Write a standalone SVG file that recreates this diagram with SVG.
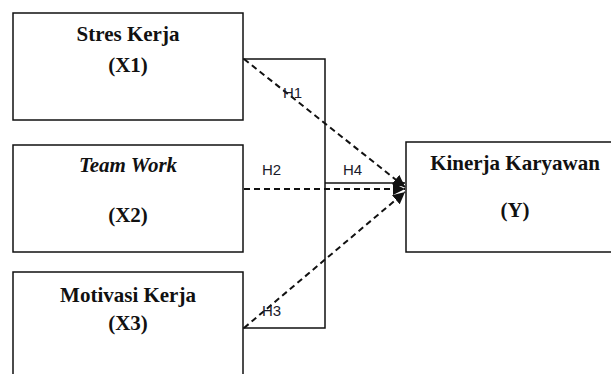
<svg xmlns="http://www.w3.org/2000/svg" width="611" height="374" viewBox="0 0 611 374">
<style>
.box{fill:#fff;stroke:#111;stroke-width:1.5}
.t{font-family:"Liberation Serif",serif;font-weight:bold;font-size:21px;fill:#111;text-anchor:middle}
.h{font-family:"Liberation Sans",Arial,sans-serif;font-size:15px;fill:#1a1a2a}
.dash{fill:none;stroke:#111;stroke-width:2;stroke-dasharray:6 4}
.solid{fill:none;stroke:#111;stroke-width:1.5}
</style>
<defs>
<marker id="ah" viewBox="0 0 10 10" refX="10" refY="5" markerWidth="6" markerHeight="6" orient="auto" markerUnits="strokeWidth">
<path d="M0,0 L10,5 L0,10 z" fill="#111"/>
</marker>
</defs>
<rect width="611" height="374" fill="#fff"/>
<g id="connectors">
<polyline class="solid" points="243,59 325,59 325,328 243,328"/>
<line class="solid" x1="325" y1="183" x2="405" y2="183" marker-end="url(#ah)"/>
<line class="dash" x1="244" y1="59" x2="405" y2="187" marker-end="url(#ah)"/>
<line class="dash" x1="244" y1="189" x2="405" y2="189" marker-end="url(#ah)"/>
<line class="dash" x1="244" y1="328" x2="405" y2="192" marker-end="url(#ah)"/>
<text class="h" x="283" y="98">H1</text>
<text class="h" x="262" y="175">H2</text>
<text class="h" x="343" y="175">H4</text>
<text class="h" x="262" y="316">H3</text>
</g>
<g id="x1">
<rect class="box" x="13" y="13" width="230" height="107"/>
<text class="t" x="128" y="41">Stres Kerja</text>
<text class="t" x="128" y="72">(X1)</text>
</g>
<g id="x2">
<rect class="box" x="13" y="145" width="230" height="107"/>
<text class="t" x="128" y="172" font-style="italic">Team Work</text>
<text class="t" x="128" y="222">(X2)</text>
</g>
<g id="x3">
<rect class="box" x="13" y="272" width="230" height="110"/>
<text class="t" x="128" y="302">Motivasi Kerja</text>
<text class="t" x="128" y="330">(X3)</text>
</g>
<g id="y">
<rect class="box" x="406" y="142" width="215" height="110"/>
<text class="t" x="515" y="170">Kinerja Karyawan</text>
<text class="t" x="515" y="217">(Y)</text>
</g>
</svg>
